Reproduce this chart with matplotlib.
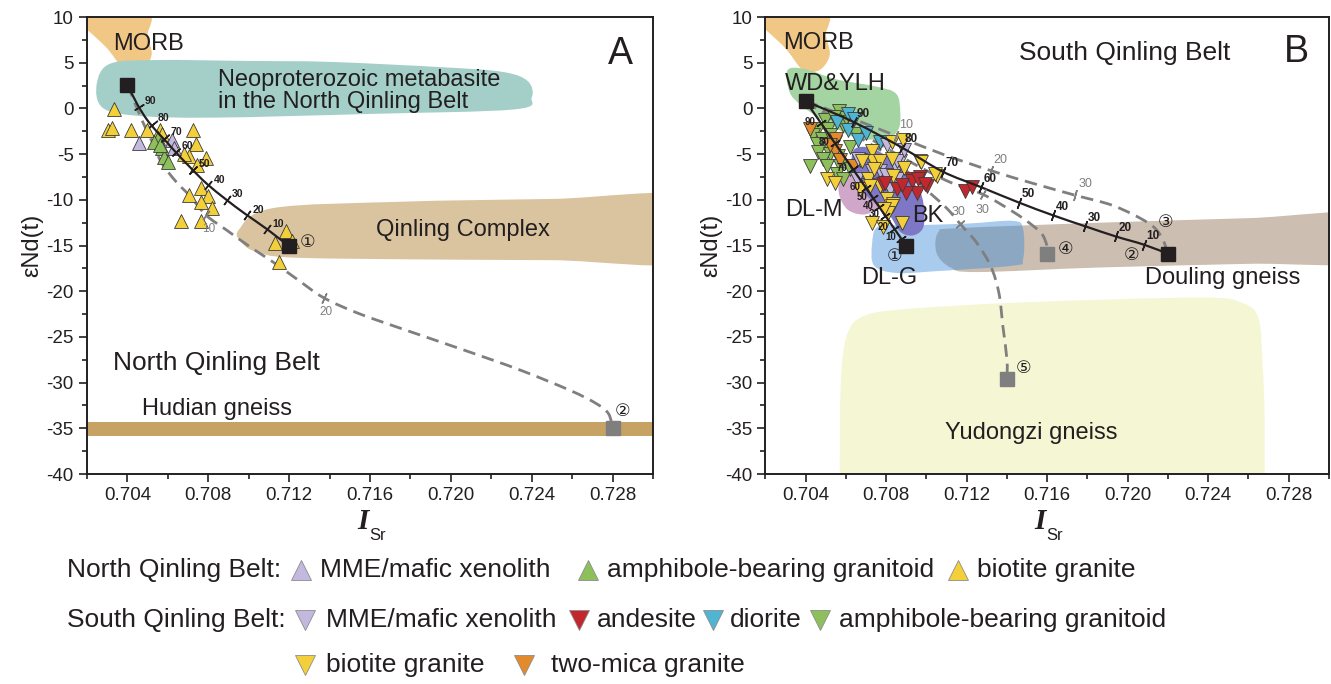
import numpy as np
import matplotlib
matplotlib.use("Agg")
import matplotlib.pyplot as plt
from matplotlib.path import Path
from matplotlib.patches import PathPatch
from matplotlib.ticker import FormatStrFormatter

plt.rcParams['font.family'] = ['Liberation Sans', 'DejaVu Sans']
plt.rcParams['axes.unicode_minus'] = False

INK = '#231F20'
GREY = '#7F7F7F'

# sample group colours
c_mme = '#C3B9DF'
c_amph = '#8DC05A'
c_bio = '#F3D03A'
c_and = '#C1272D'
c_dio = '#4FB5D2'
c_mica = '#E38A2B'

# ---------------- reference fields (outlines) ----------------
morb_x = [0.7010, 0.7049, 0.7050, 0.7052, 0.7049, 0.7044, 0.7038, 0.7029, 0.7012]
morb_y = [10.8, 10.6, 8.0, 6.0, 4.6, 4.0, 4.3, 6.8, 10.2]

neo_x = [0.70314, 0.70543, 0.7100, 0.7140, 0.7197, 0.72257, 0.7238, 0.7240, 0.72314,
         0.7159, 0.70829, 0.70448, 0.70276, 0.70248]
neo_y = [4.9, 5.3, 5.2, 5.1, 4.5, 4.0, 3.0, 1.2, -0.1, -0.6, -1.0, -0.8, 0.1, 2.7]

qc_x = [0.7095, 0.7112, 0.7176, 0.7250, 0.7320, 0.7320, 0.7250, 0.7176, 0.7120, 0.7104, 0.7097]
qc_y = [-13.3, -10.9, -10.2, -9.9, -9.7, -16.7, -16.6, -16.5, -16.3, -15.7, -14.8]

hudian_lo, hudian_hi = -35.8, -34.3

wd_x = [0.7031, 0.7040, 0.7055, 0.7075, 0.7085, 0.7087, 0.7086, 0.7080, 0.7065, 0.7050, 0.7038, 0.7032]
wd_y = [4.2, 4.3, 3.2, 2.4, 1.6, -0.5, -2.3, -3.3, -3.2, -1.5, 0.3, 1.8]

dlm_x = [0.7062, 0.7072, 0.7080, 0.7081, 0.7076, 0.7069, 0.7061, 0.70567, 0.7057]
dlm_y = [-6.8, -6.7, -7.8, -9.5, -10.9, -11.6, -11.1, -9.5, -7.8]

bk_x = [0.7064, 0.7072, 0.7082, 0.7090, 0.7097, 0.7099, 0.7098, 0.7093, 0.7087, 0.7082, 0.7075, 0.7066, 0.7063]
bk_y = [-4.5, -4.3, -5.5, -7.3, -9.2, -11.5, -13.2, -13.9, -13.5, -11.8, -10.5, -8.5, -6.5]

dlg_x = [0.7076, 0.7090, 0.7120, 0.7143, 0.7148, 0.7148, 0.7143, 0.7105, 0.7085, 0.7074, 0.7073]
dlg_y = [-12.9, -12.8, -12.6, -12.3, -13.2, -16.5, -17.2, -17.8, -18.0, -17.2, -14.8]

dou_x = [0.7106, 0.7116, 0.7186, 0.7260, 0.7320, 0.7320, 0.7260, 0.7186, 0.7125, 0.7112, 0.7105]
dou_y = [-13.5, -13.1, -12.5, -12.0, -11.6, -16.7, -17.0, -17.4, -17.9, -17.4, -15.8]

yud_x = [0.7057, 0.7057, 0.7058, 0.7061, 0.7068, 0.7087, 0.7150, 0.7236, 0.7257, 0.7265,
         0.7267, 0.7268, 0.7268, 0.7268, 0.7057]
yud_y = [-45, -34, -28, -24.5, -22.8, -22.0, -21.2, -20.7, -21.3, -23.0,
         -28, -34, -45, -60, -60]

# ---------------- panel A: mixing curves ----------------
a_mix1_x = [0.704, 0.70448, 0.70495, 0.70543, 0.7059, 0.70638, 0.70714, 0.7079, 0.70886, 0.70981, 0.71095, 0.712]
a_mix1_y = [2.6, 0.48, -1.18, -2.47, -3.58, -4.76, -6.53, -8.19, -9.93, -11.51, -13.28, -15.1]
a_tick1_x = [0.70457, 0.70524, 0.70585, 0.70638, 0.70724, 0.7080, 0.7089, 0.7099, 0.71089]
a_tick1_y = [0.18, -1.66, -3.2, -4.76, -6.7, -8.4, -10.0, -11.7, -13.2]
a_tick1_lab = ['90', '80', '70', '60', '50', '40', '30', '20', '10']

a_mix2_x = [0.704, 0.7047, 0.7053, 0.7057, 0.7064, 0.7071, 0.7079, 0.7089, 0.7101, 0.7112, 0.7124,
            0.7137, 0.7154, 0.7177, 0.7206, 0.7234, 0.7259, 0.7272, 0.7278, 0.728]
a_mix2_y = [2.6, -1.2, -4.0, -6.0, -8.0, -9.6, -11.7, -13.3, -15.2, -16.8, -18.7,
            -20.7, -22.4, -24.2, -26.4, -28.6, -30.85, -32.3, -33.4, -35.0]
a_tick2_x = [0.7079, 0.7137]
a_tick2_y = [-11.7, -20.7]
a_tick2_lab = ['10', '20']

a_end_x = [0.704, 0.712]
a_end_y = [2.6, -15.1]
a_grey_x = [0.728]
a_grey_y = [-35.0]

# panel A samples
a_mme_x = [0.70457, 0.7062, 0.7063]
a_mme_y = [-3.8, -3.5, -4.3]
a_amph_x = [0.7055, 0.7053, 0.7057, 0.7058, 0.7060, 0.7056]
a_amph_y = [-3.2, -3.7, -4.3, -5.3, -5.9, -4.0]
a_bio_x = [0.70333, 0.70305, 0.70324, 0.70419, 0.70495, 0.70562, 0.7057, 0.70724, 0.70737, 0.70705,
           0.7079, 0.70743, 0.7068, 0.70762, 0.7080, 0.70705, 0.70762, 0.70819, 0.70666, 0.70766,
           0.71182, 0.71128, 0.71215, 0.71152]
a_bio_y = [-0.07, -2.3, -2.1, -2.3, -2.3, -2.3, -2.8, -2.3, -3.9, -5.2,
           -5.4, -6.2, -5.0, -8.7, -9.6, -9.5, -10.2, -10.9, -12.3, -12.3,
           -13.4, -14.7, -14.5, -16.8]

# ---------------- panel B: mixing curves ----------------
b_mix1_x = [0.704, 0.709]
b_mix1_y = [0.8, -15.05]
b_tick1_x = [0.70475, 0.70545, 0.70635, 0.7070, 0.70735, 0.70765, 0.70795, 0.7084, 0.70875]
b_tick1_y = [-1.58, -3.8, -6.65, -8.71, -9.82, -10.77, -11.72, -13.15, -14.26]
b_tick1_lab = ['90', '80', '70', '60', '50', '40', '30', '20', '10']

b_mix2_x = [0.704, 0.7064, 0.7088, 0.7108, 0.7127, 0.7146, 0.7163, 0.7179, 0.7194, 0.7208, 0.7220]
b_mix2_y = [0.8, -1.5, -4.3, -6.9, -8.6, -10.3, -11.7, -12.9, -14.0, -14.9, -15.9]
b_tick2_x = b_mix2_x[1:-1]
b_tick2_y = b_mix2_y[1:-1]
b_tick2_lab = ['90', '80', '70', '60', '50', '40', '30', '20', '10']

b_mix3_x = [0.704, 0.7062, 0.7085, 0.7108, 0.7132, 0.7153, 0.7174, 0.7193, 0.7210, 0.72165, 0.7220]
b_mix3_y = [0.8, -1.0, -3.0, -5.0, -6.8, -8.2, -9.5, -10.65, -12.5, -13.95, -15.85]
b_tick3_x = [0.7085, 0.7132, 0.7174]
b_tick3_y = [-3.0, -6.8, -9.5]
b_tick3_lab = ['10', '20', '30']

b_mix4_x = [0.704, 0.7065, 0.7090, 0.7110, 0.7128, 0.7143, 0.7153, 0.7158, 0.7161]
b_mix4_y = [0.8, -2.4, -5.6, -7.9, -9.4, -11.3, -12.85, -13.95, -15.85]
b_tick4_x = [0.7128]
b_tick4_y = [-9.4]

b_mix5_x = [0.704, 0.7062, 0.7080, 0.7092, 0.7100, 0.7110, 0.7117, 0.7125, 0.7132, 0.7136, 0.7138, 0.7140, 0.7140]
b_mix5_y = [0.8, -2.5, -5.0, -7.2, -8.9, -10.9, -12.7, -14.7, -17.3, -20.2, -23.9, -27.5, -29.6]
b_tick5_x = [0.71168]
b_tick5_y = [-12.66]

b_end_x = [0.704, 0.709, 0.722]
b_end_y = [0.8, -15.05, -15.9]
b_grey_x = [0.716, 0.714]
b_grey_y = [-15.9, -29.6]

# panel B samples
b_amph_x = [0.70567, 0.70496, 0.70463, 0.70512, 0.70438, 0.7048, 0.70587, 0.70455, 0.70505, 0.70463,
            0.70521, 0.70562, 0.70488, 0.70421, 0.70505, 0.70571, 0.70554, 0.70587, 0.7062, 0.7062,
            0.70521, 0.70546, 0.7060, 0.7054, 0.7065]
b_amph_y = [-0.31, -1.3, -2.2, -2.2, -2.95, -3.3, -1.85, -3.85, -4.05, -4.8,
            -4.96, -5.15, -5.5, -6.3, -6.25, -6.25, -7.15, -7.7, -6.6, -4.2,
            -2.95, -3.7, -1.0, -0.9, -2.8]
b_mica_x = [0.70421, 0.70551, 0.70546, 0.70637, 0.7067, 0.7052, 0.7057]
b_mica_y = [-2.2, -3.3, -4.6, -6.25, -5.6, -4.0, -5.6]
b_dio_x = [0.70612, 0.70554, 0.70612, 0.70662, 0.7077, 0.7064, 0.7070]
b_dio_y = [-0.56, -1.47, -2.4, -3.5, -3.7, -1.2, -2.7]
b_mme_x = [0.70654, 0.70728, 0.70853, 0.70869, 0.7077, 0.70853, 0.70803, 0.70853, 0.70819, 0.7071,
           0.7066, 0.7089, 0.7080]
b_mme_y = [-7.7, -6.8, -6.6, -5.7, -6.8, -7.7, -4.05, -5.7, -8.8, -8.4,
           -5.5, -4.5, -7.3]
b_bio_x = [0.70505, 0.70546, 0.70728, 0.70736, 0.70828, 0.7077, 0.70679, 0.70828, 0.70711, 0.70836,
           0.7077, 0.7067, 0.70803, 0.70836, 0.70969, 0.70885, 0.71052, 0.70878, 0.70828, 0.70811,
           0.70728, 0.70786, 0.7072, 0.7079, 0.7089, 0.7074, 0.71043, 0.70972]
b_bio_y = [-7.7, -8.1, -4.6, -5.7, -3.7, -5.7, -5.7, -5.5, -7.7, -7.35,
           -8.45, -8.8, -9.9, -10.45, -5.7, -3.4, -7.35, -12.5, -10.65, -11.4,
           -12.5, -13.0, -8.45, -11.0, -6.5, -6.6, -7.15, -5.9]
b_and_x = [0.70786, 0.70853, 0.70927, 0.70969, 0.71002, 0.70795, 0.70927, 0.7096, 0.70993, 0.70952,
           0.71193, 0.71226, 0.7090, 0.7088]
b_and_y = [-8.26, -8.8, -7.7, -7.5, -8.45, -8.1, -7.9, -7.7, -8.26, -9.2,
           -9.0, -8.6, -9.3, -8.4]

legend_north = ['MME/mafic xenolith', 'amphibole-bearing granitoid', 'biotite granite']
legend_north_col = [c_mme, c_amph, c_bio]
legend_south = ['MME/mafic xenolith', 'andesite', 'diorite', 'amphibole-bearing granitoid',
                'biotite granite', 'two-mica granite']
legend_south_col = [c_mme, c_and, c_dio, c_amph, c_bio, c_mica]


def blob(ax, xs, ys, z=1, **kw):
    # closed smooth outline through the read points (Catmull-Rom as cubic Bezier)
    p = np.column_stack([xs, ys]).astype(float)
    n = len(p)
    verts, codes = [p[0]], [Path.MOVETO]
    for i in range(n):
        p0, p1, p2, p3 = p[i - 1], p[i], p[(i + 1) % n], p[(i + 2) % n]
        verts += [p1 + (p2 - p0) / 6, p2 - (p3 - p1) / 6, p2]
        codes += [Path.CURVE4] * 3
    ax.add_patch(PathPatch(Path(verts, codes), lw=0, zorder=z, **kw))


def curve(ax, xs, ys, **kw):
    # open smooth line through the read points
    p = np.column_stack([xs, ys]).astype(float)
    n = len(p)
    if n < 3:
        ax.add_patch(PathPatch(Path(p), fill=False, **kw))
        return
    verts, codes = [p[0]], [Path.MOVETO]
    for i in range(n - 1):
        p0 = p[max(i - 1, 0)]
        p1, p2 = p[i], p[i + 1]
        p3 = p[min(i + 2, n - 1)]
        verts += [p1 + (p2 - p0) / 6, p2 - (p3 - p1) / 6, p2]
        codes += [Path.CURVE4] * 3
    ax.add_patch(PathPatch(Path(verts, codes), fill=False, **kw))


def mix_ticks(ax, lx, ly, tx, ty, labels, color, off, ha='left', fs=7.5, weight='bold'):
    pts = ax.transData.transform(np.column_stack([lx, ly]))
    for k, (x, y) in enumerate(zip(tx, ty)):
        q = ax.transData.transform((x, y))
        i = int(np.argmin(np.hypot(*(pts - q).T)))
        i = min(max(i, 0), len(pts) - 2)
        dx, dy = pts[i + 1] - pts[i]
        ang = np.degrees(np.arctan2(dy, dx))
        ax.plot(x, y, marker=(2, 2, ang), ms=8, mew=1.1, color=color, zorder=6)
        if labels:
            ax.annotate(labels[k], (x, y), xytext=off, textcoords='offset points',
                        fontsize=fs, color=color, weight=weight, ha=ha, va='center', zorder=7)


def setup(ax):
    ax.set_xlim(0.702, 0.730)
    ax.set_ylim(-40, 10)
    ax.set_xticks(np.arange(0.704, 0.7285, 0.004))
    ax.set_xticks(np.arange(0.702, 0.7305, 0.002), minor=True)
    ax.set_yticks(np.arange(-40, 10.5, 5))
    ax.set_yticks(np.arange(-40, 10.5, 2.5), minor=True)
    ax.xaxis.set_major_formatter(FormatStrFormatter('%.3f'))
    ax.yaxis.set_major_formatter(FormatStrFormatter('%g'))
    ax.tick_params(which='both', direction='out', width=1.2, color=INK, labelsize=13.5,
                   labelcolor=INK, top=False, right=False)
    ax.tick_params(which='major', length=6)
    ax.tick_params(which='minor', length=3.5)
    for s in ax.spines.values():
        s.set_linewidth(1.4)
        s.set_color(INK)
    ax.set_ylabel('εNd(t)', fontsize=17, color=INK, labelpad=2)
    ax.text(0.497, -0.075, 'I', transform=ax.transAxes, fontsize=21, style='italic',
            weight='bold', family='Liberation Serif', ha='right', va='top', color=INK)
    ax.text(0.499, -0.118, 'Sr', transform=ax.transAxes, fontsize=12, ha='left',
            va='top', color=INK)


def samples(ax, xs, ys, col, mk, s=100):
    ax.scatter(xs, ys, s=s, marker=mk, c=col, edgecolors='#3A3A3A', linewidths=0.6, zorder=4)


fig = plt.figure(figsize=(13.31, 6.84), dpi=100)
axA = fig.add_axes([0.0654, 0.307, 0.4252, 0.668])
axB = fig.add_axes([0.5751, 0.307, 0.4234, 0.668])
setup(axA)
setup(axB)

# ---------- panel A ----------
blob(axA, morb_x, morb_y, color='#F0C785')
blob(axA, neo_x, neo_y, color='#A3CFC8')
blob(axA, qc_x, qc_y, color='#D9C49F')
axA.axhspan(hudian_lo, hudian_hi, color='#C6A265', lw=0, zorder=1)

curve(axA, a_mix2_x, a_mix2_y, color=GREY, lw=2, linestyle=(0, (4.5, 2.5)), zorder=2)
samples(axA, a_bio_x, a_bio_y, c_bio, '^')
samples(axA, a_amph_x, a_amph_y, c_amph, '^')
samples(axA, a_mme_x, a_mme_y, c_mme, '^')
curve(axA, a_mix1_x, a_mix1_y, color=INK, lw=1.6, zorder=5)
mix_ticks(axA, a_mix1_x, a_mix1_y, a_tick1_x, a_tick1_y, a_tick1_lab, INK, (4, 4))
mix_ticks(axA, a_mix2_x, a_mix2_y, a_tick2_x, a_tick2_y, a_tick2_lab, GREY, (2, -10),
          ha='center', fs=8.5, weight='normal')
axA.plot(a_end_x, a_end_y, 's', ms=10, color=INK, zorder=6)
axA.plot(a_grey_x, a_grey_y, 's', ms=10, color=GREY, zorder=6)

axA.text(0.7033, 7.1, 'MORB', fontsize=17, va='center', color=INK, zorder=8)
axA.text(0.7085, 1.9, 'Neoproterozoic metabasite\nin the North Qinling Belt', fontsize=17,
         va='center', linespacing=1.0, color=INK, zorder=8)
axA.text(0.7284, 6.0, 'A', fontsize=27, ha='center', va='center', color=INK)
axA.text(0.7206, -13.3, 'Qinling Complex', fontsize=17, ha='center', va='center', color=INK)
axA.text(0.7033, -27.9, 'North Qinling Belt', fontsize=19, va='center', color=INK)
axA.text(0.7047, -32.9, 'Hudian gneiss', fontsize=17, va='center', color=INK)
axA.text(0.7129, -14.6, '①', fontsize=12.5, ha='center', va='center', color=INK,
         family=['DejaVu Sans'])
axA.text(0.7285, -33.1, '②', fontsize=12.5, ha='center', va='center', color=INK,
         family=['DejaVu Sans'])

# ---------- panel B ----------
blob(axB, morb_x, morb_y, color='#F0C785')
blob(axB, yud_x, yud_y, color='#F5F6D4')
blob(axB, dou_x, dou_y, color=(0.55, 0.42, 0.30), alpha=0.44)
blob(axB, dlg_x, dlg_y, color=(0.25, 0.55, 0.85), alpha=0.45)
blob(axB, wd_x, wd_y, color='#A3D4A1')
blob(axB, dlm_x, dlm_y, color='#D0A7C9')
blob(axB, bk_x, bk_y, color='#7D77C6')

dash = dict(color=GREY, lw=2, linestyle=(0, (4.5, 2.5)), zorder=2)
curve(axB, b_mix3_x, b_mix3_y, **dash)
curve(axB, b_mix4_x, b_mix4_y, **dash)
curve(axB, b_mix5_x, b_mix5_y, **dash)
mix_ticks(axB, b_mix3_x, b_mix3_y, b_tick3_x, b_tick3_y, b_tick3_lab, GREY, (2, 8),
          fs=9, weight='normal')
mix_ticks(axB, b_mix4_x, b_mix4_y, b_tick4_x, b_tick4_y, ['30'], GREY, (0, -11),
          ha='center', fs=9, weight='normal')
mix_ticks(axB, b_mix5_x, b_mix5_y, b_tick5_x, b_tick5_y, ['30'], GREY, (-1, 9),
          ha='center', fs=9, weight='normal')

samples(axB, b_amph_x, b_amph_y, c_amph, 'v')
samples(axB, b_mica_x, b_mica_y, c_mica, 'v')
samples(axB, b_dio_x, b_dio_y, c_dio, 'v')
samples(axB, b_mme_x, b_mme_y, c_mme, 'v')
samples(axB, b_bio_x, b_bio_y, c_bio, 'v')
samples(axB, b_and_x, b_and_y, c_and, 'v')

curve(axB, b_mix1_x, b_mix1_y, color=INK, lw=1.6, zorder=5)
curve(axB, b_mix2_x, b_mix2_y, color=INK, lw=1.6, zorder=5)
mix_ticks(axB, b_mix1_x, b_mix1_y, b_tick1_x, b_tick1_y, b_tick1_lab, INK, (-4, 1),
          ha='right', fs=7)
mix_ticks(axB, b_mix2_x, b_mix2_y, b_tick2_x, b_tick2_y, b_tick2_lab, INK, (2, 6), fs=8.5)
axB.plot(b_end_x, b_end_y, 's', ms=10, color=INK, zorder=6)
axB.plot(b_grey_x, b_grey_y, 's', ms=10, color=GREY, zorder=6)

axB.text(0.7029, 7.2, 'MORB', fontsize=17, va='center', color=INK, zorder=8)
axB.text(0.7146, 6.1, 'South Qinling Belt', fontsize=19, va='center', color=INK)
axB.text(0.7284, 6.2, 'B', fontsize=27, ha='center', va='center', color=INK)
axB.text(0.70295, 2.65, 'WD&YLH', fontsize=17, va='center', color=INK, zorder=8)
axB.text(0.70300, -11.1, 'DL-M', fontsize=17, va='center', color=INK, zorder=8)
axB.text(0.70931, -11.75, 'BK', fontsize=17, va='center', color=INK, zorder=8)
axB.text(0.70677, -18.6, 'DL-G', fontsize=17, va='center', color=INK, zorder=8)
axB.text(0.72084, -18.6, 'Douling gneiss', fontsize=17, va='center', color=INK, zorder=8)
axB.text(0.7152, -35.5, 'Yudongzi gneiss', fontsize=17, ha='center', va='center', color=INK)
for lab, x, y in [('①', 0.7084, -16.15), ('②', 0.7202, -16.0), ('③', 0.7219, -12.4),
                  ('④', 0.7169, -15.4), ('⑤', 0.7148, -28.4)]:
    axB.text(x, y, lab, fontsize=12.5, ha='center', va='center', color=INK,
             family=['DejaVu Sans'], zorder=8)

# ---------- legend (pixel layout) ----------
lg = fig.add_axes([0, 0, 1, 1])
lg.set_xlim(0, 1331)
lg.set_ylim(684, 0)
lg.axis('off')

fs_leg = 19
lg.text(67, 570, 'North Qinling Belt:', fontsize=fs_leg, va='center', color=INK)
for lab, col, mx in zip(legend_north, legend_north_col, [301, 588, 958]):
    lg.plot(mx, 570, '^', ms=15, color=col, mec='#8C8C8C', mew=0.6)
    lg.text(mx + 19, 570, lab, fontsize=fs_leg, va='center', color=INK)

lg.text(67, 620, 'South Qinling Belt:', fontsize=fs_leg, va='center', color=INK)
south_pos = [(305, 620), (579, 620), (713, 620), (820, 620), (305, 665), (524, 665)]
south_gap = [21, 18, 17, 19, 21, 27]
for lab, col, (mx, my), g in zip(legend_south, legend_south_col, south_pos, south_gap):
    lg.plot(mx, my, 'v', ms=15, color=col, mec='#8C8C8C', mew=0.6)
    lg.text(mx + g, my, lab, fontsize=fs_leg, va='center', color=INK)

fig.savefig('out.png', dpi=100)
